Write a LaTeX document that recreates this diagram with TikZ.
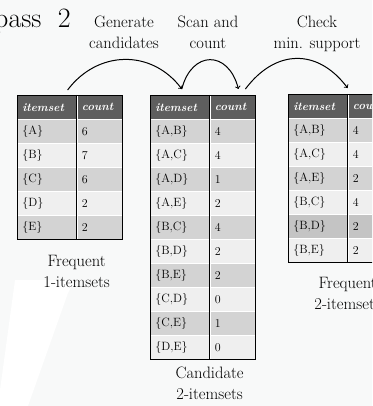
\documentclass[tikz,border=0pt]{standalone}
\usetikzlibrary{positioning}
\definecolor{hdgray}{HTML}{5E5E5E}
\definecolor{rowdk}{HTML}{D3D3D3}
\definecolor{rowlt}{HTML}{EFEFEF}
\definecolor{rowmd}{HTML}{C4C4C4}
\definecolor{bggray}{HTML}{F8F9F9}
\tikzset{
    cell/.style = {draw = white, line width = 0.6pt, anchor = north west,
        minimum height = 24pt, inner sep = 0pt, inner xsep = 5pt, align = left,
        font = \fontsize{12}{14}\selectfont},
    hd/.style = {cell, fill = hdgray, text = white,
        font = \fontsize{11.5}{14}\selectfont\bfseries\itshape},
    lbl/.style = {anchor = north, inner sep = 0pt, align = center,
        font = \fontsize{16.5}{21}\selectfont},
    frame/.style = {line width = 0.9pt},
    flow/.style = {->, line width = 1pt}
}
\begin{document}
\begin{tikzpicture}[x = 1pt, y = 1pt]
    \useasboundingbox (0, 0) rectangle (372, -406);
    \clip (0, 0) rectangle (372, -406);
    \fill[bggray] (0, 0) rectangle (372, -406);
    \fill[white] (15, -280) -- (0, -390) -- (0, -406) -- (28, -406) -- (68, -293) -- (75, -280) -- cycle;

    % titles
    \node[anchor = base east, inner sep = 0pt, font = \fontsize{28}{30}\selectfont] (pass) at (71, -28) {pass\hspace{8pt} 2};
    \node[lbl] (gen) at (124, -15.5) {Generate\\candidates};
    \node[lbl] (scan) at (208, -15.5) {Scan and\\count};
    \node[lbl] (check) at (317, -15.5) {Check\\min. support};

    % frequent 1-itemsets
    \node[hd, text width = 49pt] (h1s) at (17, -95) {itemset};
    \node[hd, text width = 35pt] (h1c) at (h1s.north east) {count};
    \foreach \s/\c/\f [count = \i] in {A/6/rowdk, B/7/rowlt, C/6/rowdk, D/2/rowlt, E/2/rowdk}{
        \node[cell, fill = \f, text width = 49pt] (r1s\i) at (17, {-95 - 24*\i}) {\{\s\}};
        \node[cell, fill = \f, text width = 35pt] (r1c\i) at (r1s\i.north east) {\c};
    }
    \draw[frame] (h1s.north west) rectangle (r1c5.south east);
    \draw[frame] (h1s.north east) -- (r1s5.south east);
    \node[lbl] (lab1) at (r1s5.south east |- 0, -255) {Frequent\\1-itemsets};

    % candidate 2-itemsets
    \node[hd, text width = 49pt] (h2s) at (150, -95) {itemset};
    \node[hd, text width = 35pt] (h2c) at (h2s.north east) {count};
    \foreach \s/\c/\f [count = \i] in {{A,B}/4/rowdk, {A,C}/4/rowlt, {A,D}/1/rowdk, {A,E}/2/rowlt,
        {B,C}/4/rowdk, {B,D}/2/rowlt, {B,E}/2/rowdk, {C,D}/0/rowlt, {C,E}/1/rowdk, {D,E}/0/rowlt}{
        \node[cell, fill = \f, text width = 49pt] (r2s\i) at (150, {-95 - 24*\i}) {\{\s\}};
        \node[cell, fill = \f, text width = 35pt] (r2c\i) at (r2s\i.north east) {\c};
    }
    \draw[frame] (h2s.north west) rectangle (r2c10.south east);
    \draw[frame] (h2s.north east) -- (r2s10.south east);
    \node[lbl] (lab2) at (r2s10.south east |- 0, -366.5) {Candidate\\2-itemsets};

    % frequent 2-itemsets
    \node[hd, text width = 49pt] (h3s) at (288, -94) {itemset};
    \node[hd, text width = 35pt] (h3c) at (h3s.north east) {count};
    \foreach \s/\c/\f [count = \i] in {{A,B}/4/rowdk, {A,C}/4/rowlt, {A,E}/2/rowdk,
        {B,C}/4/rowlt, {B,D}/2/rowmd, {B,E}/2/rowlt}{
        \node[cell, fill = \f, text width = 49pt] (r3s\i) at (288, {-94 - 24*\i}) {\{\s\}};
        \node[cell, fill = \f, text width = 35pt] (r3c\i) at (r3s\i.north east) {\c};
    }
    \draw[frame] (h3s.north west) rectangle (r3c6.south east);
    \draw[frame] (h3s.north east) -- (r3s6.south east);
    \node[lbl] (lab3) at (r3s6.south east |- 0, -277) {Frequent\\2-itemsets};

    % arrows
    \coordinate (out1) at ([shift = {(-9, 5)}]h1s.north east);
    \coordinate (in2) at ([shift = {(2, 6)}]h2s.north);
    \coordinate (in2c) at ([shift = {(6, 6)}]h2c.north);
    \coordinate (out2) at ([shift = {(13, 6)}]h2c.north);
    \coordinate (in3) at ([shift = {(0, 6)}]h3s.north east);
    \draw[flow] (out1) .. controls +(30, 40) and +(-30, 40) .. (in2);
    \draw[flow] (in2) .. controls +(10, 39) and +(-10, 39) .. (in2c);
    \draw[flow] (out2) .. controls +(30, 40) and +(-30, 40) .. (in3);
\end{tikzpicture}
\end{document}
